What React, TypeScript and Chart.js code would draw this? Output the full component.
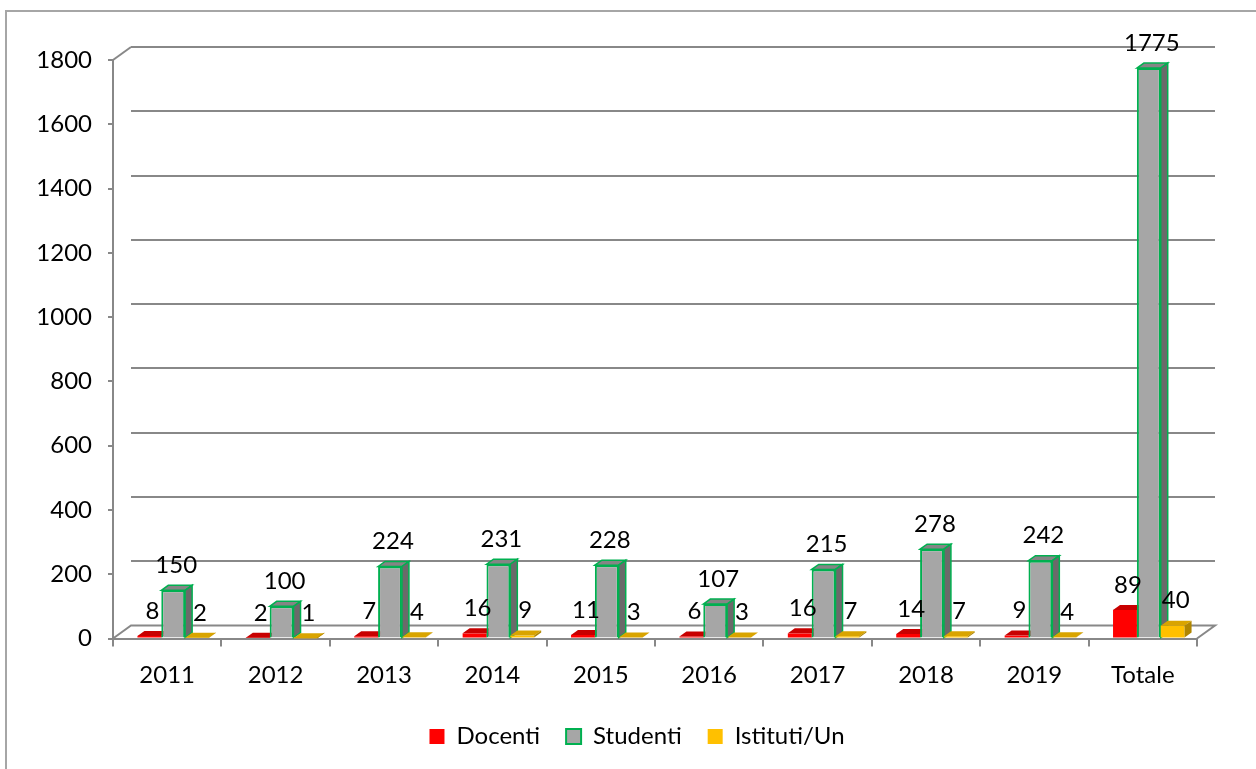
import React, { useEffect, useRef } from 'react';
import { Chart, registerables } from 'chart.js';

Chart.register(...registerables);

const categories = ['2011', '2012', '2013', '2014', '2015', '2016', '2017', '2018', '2019', 'Totale'];
const docenti = [8, 2, 7, 16, 11, 6, 16, 14, 9, 89];
const studenti = [150, 100, 224, 231, 228, 107, 215, 278, 242, 1775];
const istituti = [2, 1, 4, 9, 3, 3, 7, 7, 4, 40];
const seriesNames = ['Docenti', 'Studenti', 'Istituti/Un'];
const yMin = 0;
const yMax = 1800;
const yStep = 200;

const FONT = 'Lato, "Open Sans", sans-serif';
const FSIZE = 24;
const GRID = '#888888';
const DX = 18;
const DY = -13;
const BDX = 7;
const BDY = -5;
const SHIFT = 6;

const faceColors = [
  { top: '#c80000', side: '#a00000', stroke: null },
  { top: '#858585', side: '#6a6a6a', stroke: '#00b050' },
  { top: '#d9a400', side: '#b08600', stroke: null },
];

const threeD = {
  id: 'threeD',
  beforeDraw(chart: any) {
    const { ctx } = chart;
    ctx.save();
    ctx.fillStyle = '#ffffff';
    ctx.fillRect(0, 0, chart.width, chart.height);
    ctx.strokeStyle = '#a6a6a6';
    ctx.lineWidth = 2;
    ctx.strokeRect(6, 11, 1400, 900);
    ctx.restore();
  },
  beforeDatasetsDraw(chart: any) {
    const { ctx, chartArea: a, scales } = chart;
    const y = scales.y;
    ctx.save();
    ctx.strokeStyle = GRID;
    ctx.lineWidth = 2;
    ctx.lineCap = 'butt';
    for (let v = yMin + yStep; v <= yMax; v += yStep) {
      const py = Math.round(y.getPixelForValue(v) + DY);
      ctx.beginPath();
      ctx.moveTo(a.left + DX, py);
      ctx.lineTo(a.right + DX, py);
      ctx.stroke();
    }
    const topY = y.getPixelForValue(yMax);
    ctx.beginPath();
    ctx.moveTo(a.left, topY);
    ctx.lineTo(a.left + DX, Math.round(topY + DY));
    ctx.stroke();
    const b = y.getPixelForValue(yMin);
    ctx.beginPath();
    ctx.moveTo(a.left, b);
    ctx.lineTo(a.left + DX, b + DY);
    ctx.lineTo(a.right + DX, b + DY);
    ctx.lineTo(a.right, b);
    ctx.stroke();

    ctx.translate(SHIFT, 0);
    const metas = [0, 1, 2].map((d) => chart.getDatasetMeta(d));
    for (let i = 0; i < categories.length; i++) {
      for (let d = 0; d < 3; d++) {
        const el: any = metas[d].data[i];
        if (!el) continue;
        const { x, y: top, base, width } = el.getProps(['x', 'y', 'base', 'width'], true);
        const l = x - width / 2;
        const r = x + width / 2;
        el.draw(ctx);
        const fc = faceColors[d];
        ctx.beginPath();
        ctx.moveTo(l, top);
        ctx.lineTo(l + BDX, top + BDY);
        ctx.lineTo(r + BDX, top + BDY);
        ctx.lineTo(r, top);
        ctx.closePath();
        ctx.fillStyle = fc.top;
        ctx.fill();
        if (fc.stroke) {
          ctx.strokeStyle = fc.stroke;
          ctx.lineWidth = 1.5;
          ctx.stroke();
        }
        ctx.beginPath();
        ctx.moveTo(r, top);
        ctx.lineTo(r + BDX, top + BDY);
        ctx.lineTo(r + BDX, base + BDY);
        ctx.lineTo(r, base);
        ctx.closePath();
        ctx.fillStyle = fc.side;
        ctx.fill();
        if (fc.stroke) {
          ctx.strokeStyle = fc.stroke;
          ctx.lineWidth = 1.5;
          ctx.stroke();
        }
      }
    }
    ctx.fillStyle = '#000000';
    ctx.font = `${FSIZE}px ${FONT}`;
    ctx.textAlign = 'center';
    ctx.textBaseline = 'middle';
    for (let d = 0; d < 3; d++) {
      const data = chart.data.datasets[d].data;
      metas[d].data.forEach((el: any, i: number) => {
        const { x, y: top } = el.getProps(['x', 'y'], true);
        ctx.fillText(String(data[i]), x + 3, top - 25);
      });
    }
    ctx.restore();
    return false;
  },
};

export default function App() {
  const ref = useRef<HTMLCanvasElement | null>(null);
  useEffect(() => {
    if (!ref.current) return;
    const chart = new Chart(ref.current, {
      type: 'bar',
      data: {
        labels: categories,
        datasets: [
          {
            label: seriesNames[0],
            data: docenti,
            backgroundColor: '#ff0000',
            borderColor: '#ff0000',
            borderWidth: 0,
          },
          {
            label: seriesNames[1],
            data: studenti,
            backgroundColor: '#a6a6a6',
            borderColor: '#00b050',
            borderWidth: 2,
          },
          {
            label: seriesNames[2],
            data: istituti,
            backgroundColor: '#ffc000',
            borderColor: '#ffc000',
            borderWidth: 0,
          },
        ],
      },
      options: {
        responsive: false,
        animation: false,
        events: [],
        datasets: { bar: { categoryPercentage: 0.66, barPercentage: 1 } },
        layout: { padding: { top: 60, right: 0, left: 18, bottom: 10.5 } },
        plugins: {
          tooltip: { enabled: false },
          legend: {
            position: 'bottom',
            labels: {
              boxWidth: 15,
              boxHeight: 15,
              padding: 26,
              color: '#000000',
              font: { family: FONT, size: FSIZE },
            },
          },
        },
        scales: {
          x: {
            grid: {
              display: true,
              drawOnChartArea: false,
              drawTicks: true,
              tickLength: 8,
              color: GRID,
              lineWidth: 2,
              offset: true,
            },
            border: { display: true, color: GRID, width: 2 },
            ticks: {
              color: '#000000',
              font: { family: FONT, size: FSIZE },
              padding: 14,
              maxRotation: 0,
            },
            afterFit: (s: any) => {
              s.height = 60;
            },
          },
          y: {
            min: yMin,
            max: yMax,
            grid: {
              display: true,
              drawOnChartArea: false,
              drawTicks: true,
              tickLength: 5,
              color: GRID,
              lineWidth: 2,
            },
            border: { display: true, color: GRID, width: 2 },
            ticks: {
              stepSize: yStep,
              color: '#000000',
              font: { family: FONT, size: FSIZE },
              padding: 16,
              callback: (v: any) => String(v),
            },
            afterFit: (s: any) => {
              s.width = 95;
            },
          },
          yPad: {
            type: 'linear',
            position: 'right',
            display: true,
            grid: { display: false },
            border: { display: false },
            ticks: { display: false },
            afterFit: (s: any) => {
              s.width = 59;
            },
          },
        },
      },
      plugins: [threeD],
    });
    return () => chart.destroy();
  }, []);
  return (
    <div style={{ position: 'absolute', left: 0, top: 0, width: 1256, height: 769 }}>
      <canvas ref={ref} width={1256} height={769} />
    </div>
  );
}
